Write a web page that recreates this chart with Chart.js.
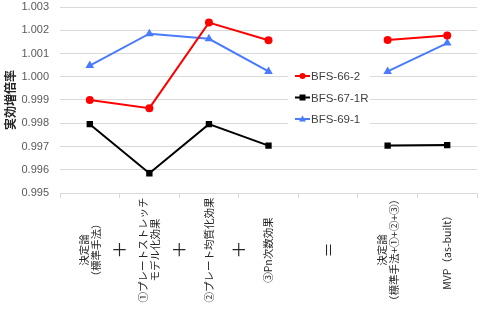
<!DOCTYPE html>
<html>
<head>
<meta charset="utf-8">
<script src="https://cdn.jsdelivr.net/npm/chart.js@4"></script>
<style>
  html, body { margin: 0; padding: 0; background: #fff; }
  #wrap { width: 482px; height: 312px; }
</style>
</head>
<body>
<div id="wrap"><canvas id="chart" width="482" height="312"></canvas></div>
<script>
// categories (multi-line labels are drawn rotated under the axis)
const categories = [
    ['決定論', '（標準手法）'],
    ['①プレートストレッチ', 'モデル化効果'],
    ['②プレート均質化効果'],
    ['③Pn次数効果'],
    ['＝'],
    ['決定論', '（標準手法+①+②+③）'],
    ['MVP（as-built）']
];
// signs between the first categories
const operators = ['＋', '＋', '＋'];

const bfs66 = [0.9990, 0.99865, 1.00233, 1.00157, null, 1.00158, 1.00177];
const bfs67 = [0.99796, 0.99585, 0.99796, 0.99704, null, 0.99704, 0.99706];
const bfs69 = [1.00048, 1.00185, 1.00163, 1.00023, null, 1.00023, 1.00145];

const yTicks = [0.995, 0.996, 0.997, 0.998, 0.999, 1.000, 1.001, 1.002, 1.003];

const labelFont = '"Noto Sans CJK JP", sans-serif';

// draws the rotated category labels and the +/= signs
const xLabels = {
    id: 'xLabels',
    afterDraw(chart) {
        const ctx = chart.ctx;
        const x = chart.scales.x;
        const midY = 250;
        ctx.save();
        ctx.fillStyle = '#262626';
        ctx.textBaseline = 'middle';
        ctx.textAlign = 'center';
        categories.forEach((lines, i) => {
            const px = x.getPixelForValue(i);
            const isSign = lines.length === 1 && lines[0] === '＝';
            ctx.font = isSign ? '15px ' + labelFont : '10.5px ' + labelFont;
            const lh = 12;
            ctx.save();
            ctx.translate(px, midY);
            ctx.rotate(-Math.PI / 2);
            lines.forEach((t, j) => {
                ctx.fillText(t, 0, (j - (lines.length - 1) / 2) * lh);
            });
            ctx.restore();
        });
        ctx.font = '17px ' + labelFont;
        operators.forEach((op, i) => {
            const px = (x.getPixelForValue(i) + x.getPixelForValue(i + 1)) / 2;
            ctx.fillText(op, px, midY);
        });
        ctx.restore();
    }
};

// legend inside the plot area, white box over the grid
const innerLegend = {
    id: 'innerLegend',
    afterDatasetsDraw(chart) {
        const ctx = chart.ctx;
        const left = 288, top = 66;
        ctx.save();
        ctx.fillStyle = '#fff';
        ctx.fillRect(left, top, 82, 60);
        ctx.font = '11.5px "Liberation Sans", sans-serif';
        ctx.textBaseline = 'middle';
        ctx.textAlign = 'left';
        chart.data.datasets.forEach((ds, i) => {
            const y = top + 10 + i * 21.5;
            const x0 = left + 7, x1 = left + 22;
            ctx.strokeStyle = ds.borderColor;
            ctx.lineWidth = 2;
            ctx.beginPath();
            ctx.moveTo(x0, y);
            ctx.lineTo(x1, y);
            ctx.stroke();
            ctx.fillStyle = ds.borderColor;
            const cx = (x0 + x1) / 2;
            ctx.beginPath();
            if (ds.pointStyle === 'circle') {
                ctx.arc(cx, y, 3, 0, Math.PI * 2);
            } else if (ds.pointStyle === 'rect') {
                ctx.rect(cx - 3, y - 3, 6, 6);
            } else {
                ctx.moveTo(cx, y - 3.5);
                ctx.lineTo(cx + 3.5, y + 2.5);
                ctx.lineTo(cx - 3.5, y + 2.5);
                ctx.closePath();
            }
            ctx.fill();
            ctx.fillStyle = '#404040';
            ctx.fillText(ds.label, x1 + 1, y + 1);
        });
        ctx.restore();
    }
};

new Chart(document.getElementById('chart'), {
    type: 'line',
    data: {
        labels: categories.map(c => c.join(' ')),
        datasets: [
            { label: 'BFS-66-2', data: bfs66, borderColor: '#ff0000', backgroundColor: '#ff0000',
              pointStyle: 'circle', pointRadius: 4 },
            { label: 'BFS-67-1R', data: bfs67, borderColor: '#000000', backgroundColor: '#000000',
              pointStyle: 'rect', pointRadius: 4.5 },
            { label: 'BFS-69-1', data: bfs69, borderColor: '#4a7bff', backgroundColor: '#4a7bff',
              pointStyle: 'triangle', pointRadius: 5 }
        ]
    },
    options: {
        responsive: false,
        animation: false,
        layout: { padding: { top: 0, right: 4, left: 0, bottom: 0 } },
        elements: {
            line: { borderWidth: 2, tension: 0 },
            point: { borderWidth: 0, hoverRadius: 4 }
        },
        plugins: {
            legend: { display: false },
            tooltip: { enabled: false }
        },
        scales: {
            x: {
                offset: true,
                afterFit: s => { s.height = 119; },
                grid: { drawOnChartArea: false, drawTicks: true, tickLength: 5, color: '#d9d9d9', offset: true },
                border: { color: '#d9d9d9' },
                ticks: { display: false }
            },
            y: {
                min: 0.995,
                max: 1.003,
                afterFit: s => { s.width = 60; s.paddingTop = 7; },
                afterBuildTicks: s => { s.ticks = yTicks.map(v => ({ value: v })); },
                grid: { color: '#d9d9d9', drawTicks: false },
                border: { display: false },
                ticks: {
                    padding: 11,
                    color: '#595959',
                    font: { family: '"Liberation Sans", sans-serif', size: 11 },
                    callback: v => v.toFixed(3)
                },
                title: {
                    display: true,
                    text: '実効増倍率',
                    color: '#262626',
                    padding: { top: 3, bottom: 0 },
                    font: { family: labelFont, size: 12, weight: 'bold' }
                }
            }
        }
    },
    plugins: [xLabels, innerLegend]
});
</script>
</body>
</html>
